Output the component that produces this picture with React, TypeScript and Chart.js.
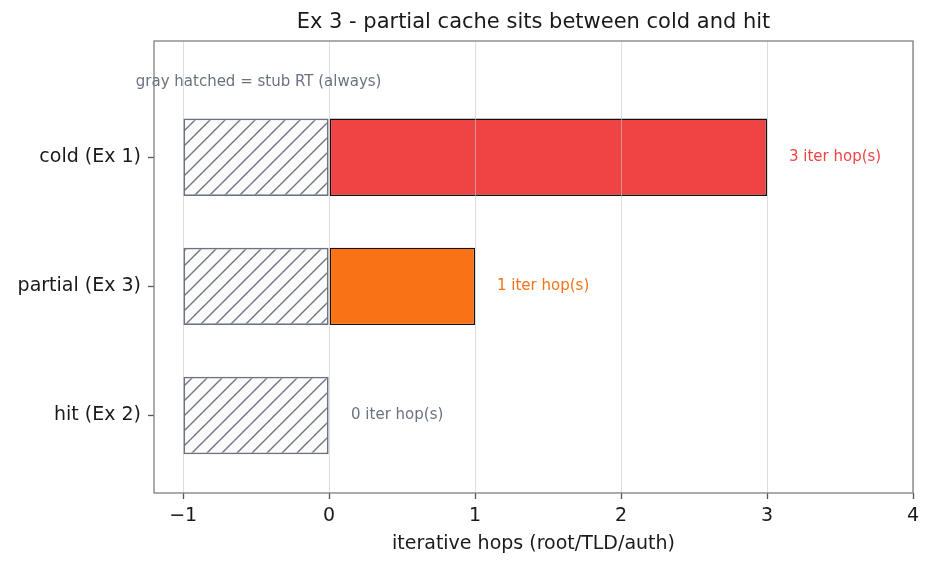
import React, { useEffect, useRef } from 'react';
import { Chart, registerables } from 'chart.js';

Chart.register(...registerables);

const categories = ['cold (Ex 1)', 'partial (Ex 3)', 'hit (Ex 2)'];
const categoryPositions = [2, 1, 0];
const iterHops = [3, 1, 0];
const stubStart = -1;
const stubEnd = 0;
const barColors = ['#ef4444', '#f97316', '#6b7280'];
const labelColors = ['#ef4444', '#f97316', '#6b7280'];
const xTicks = [-1, 0, 1, 2, 3, 4];
const labelOffset = 0.15;
const titleText = 'Ex 3 - partial cache sits between cold and hit';
const xLabel = 'iterative hops (root/TLD/auth)';
const noteText = 'gray hatched = stub RT (always)';

const FONT = '"DejaVu Sans", sans-serif';

function makeHatch(): CanvasPattern | string {
  const s = 15;
  const c = document.createElement('canvas');
  c.width = s;
  c.height = s;
  const g = c.getContext('2d');
  if (!g) return '#fbfbfc';
  g.fillStyle = '#fbfbfc';
  g.fillRect(0, 0, s, s);
  g.strokeStyle = '#707480';
  g.lineWidth = 1.4;
  g.beginPath();
  g.moveTo(-2, s + 2);
  g.lineTo(s + 2, -2);
  g.moveTo(-2, 2);
  g.lineTo(2, -2);
  g.moveTo(s - 2, s + 2);
  g.lineTo(s + 2, s - 2);
  g.stroke();
  return g.createPattern(c, 'repeat') || '#fbfbfc';
}

const overlay = {
  id: 'overlay',
  afterDraw(chart: any) {
    const { ctx, chartArea: a, scales } = chart;
    const x = scales.x;
    const y = scales.y;
    ctx.save();
    ctx.strokeStyle = '#808080';
    ctx.lineWidth = 1.3;
    ctx.strokeRect(a.left, a.top, a.right - a.left, a.bottom - a.top);

    ctx.fillStyle = '#1a1a1a';
    ctx.textAlign = 'center';
    ctx.textBaseline = 'middle';
    ctx.font = `21px ${FONT}`;
    ctx.fillText(titleText, (a.left + a.right) / 2, a.top - 18);
    ctx.font = `19px ${FONT}`;
    ctx.fillText(xLabel, (a.left + a.right) / 2, a.bottom + 51);

    ctx.font = `15px ${FONT}`;
    ctx.textAlign = 'left';
    iterHops.forEach((v, i) => {
      ctx.fillStyle = labelColors[i];
      ctx.fillText(`${v} iter hop(s)`, x.getPixelForValue(v + labelOffset), y.getPixelForValue(categoryPositions[i]));
    });
    ctx.fillStyle = '#6b7280';
    ctx.fillText(noteText, a.left - 0.024 * (a.right - a.left), a.bottom - 0.91 * (a.bottom - a.top));
    ctx.restore();
  },
};

export default function App() {
  const ref = useRef<HTMLCanvasElement | null>(null);
  useEffect(() => {
    if (!ref.current) return;
    const hatch = makeHatch();
    const chart = new Chart(ref.current, {
      type: 'bar',
      data: {
        datasets: [
          {
            label: 'stub RT',
            data: categoryPositions.map((p) => ({ x: [stubStart, stubEnd], y: p })) as any,
            backgroundColor: hatch as any,
            borderColor: '#6b7280',
            borderWidth: 1.8,
            borderSkipped: false,
            grouped: false,
            barPercentage: 0.6,
            categoryPercentage: 1,
          } as any,
          {
            label: 'iter hops',
            data: categoryPositions.map((p, i) => ({ x: [0, iterHops[i]], y: p })) as any,
            backgroundColor: barColors,
            borderColor: '#111111',
            borderWidth: (ctx: any) => (iterHops[ctx.dataIndex] === 0 ? 0 : 1.4),
            borderSkipped: false,
            grouped: false,
            barPercentage: 0.6,
            categoryPercentage: 1,
          } as any,
        ],
      },
      options: {
        indexAxis: 'y',
        animation: false,
        responsive: false,
        maintainAspectRatio: false,
        layout: { padding: { top: 41, right: 20, left: 0, bottom: 0 } },
        plugins: { legend: { display: false }, tooltip: { enabled: false }, title: { display: false } },
        scales: {
          x: {
            type: 'linear',
            min: -1.2,
            max: 4,
            offset: false,
            afterBuildTicks: (s: any) => {
              s.ticks = xTicks.map((v) => ({ value: v }));
            },
            afterFit: (s: any) => {
              s.height = 74;
            },
            grid: {
              z: 1,
              offset: false,
              color: 'rgba(200,200,200,0.6)',
              lineWidth: 1,
              tickColor: '#555555',
              tickWidth: 1.3,
              tickLength: 6,
              drawTicks: true,
            },
            border: { display: false },
            ticks: {
              padding: 6,
              color: '#1a1a1a',
              font: { family: FONT, size: 19 },
              maxRotation: 0,
              callback: (v: any) => (v < 0 ? '\u2212' + Math.abs(v) : String(v)),
            },
          },
          y: {
            type: 'linear',
            min: -0.6,
            max: 2.9,
            offset: false,
            afterBuildTicks: (s: any) => {
              s.ticks = categoryPositions.map((v) => ({ value: v }));
            },
            afterFit: (s: any) => {
              s.width = 154;
            },
            grid: {
              offset: false,
              drawOnChartArea: false,
              tickColor: '#555555',
              tickWidth: 1.3,
              tickLength: 6,
            },
            border: { display: false },
            ticks: {
              padding: 7,
              color: '#1a1a1a',
              font: { family: FONT, size: 19 },
              callback: (v: any) => categories[categoryPositions.indexOf(v)],
            },
          },
        },
      } as any,
      plugins: [overlay],
    });
    return () => chart.destroy();
  }, []);
  return (
    <div style={{ position: 'fixed', left: 0, top: 0, width: 933, height: 567, background: '#ffffff' }}>
      <canvas ref={ref} width={933} height={567} style={{ display: 'block' }} />
    </div>
  );
}
